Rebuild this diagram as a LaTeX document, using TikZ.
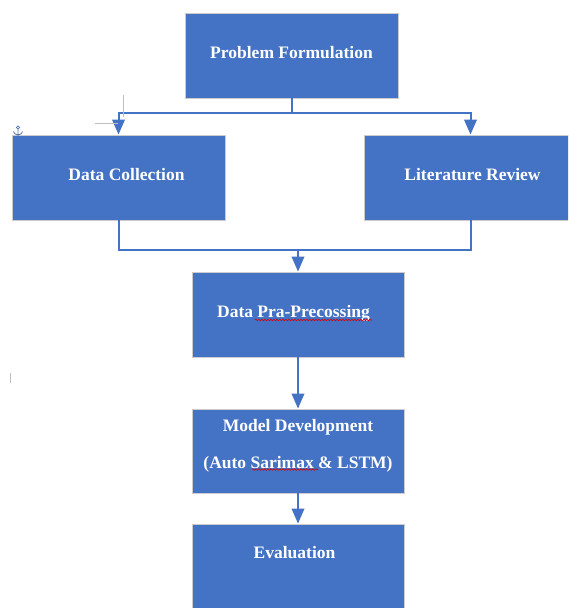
\documentclass[tikz,border=0pt]{standalone}
\usepackage{fontspec}
\setmainfont{Liberation Serif}
\usetikzlibrary{arrows.meta,positioning,calc,decorations.pathmorphing}
\definecolor{wordblue}{RGB}{68,114,196}
\tikzset{
stepbox/.style={rectangle,fill=wordblue,draw=black!20,line width=0.8pt,minimum width=213pt,minimum height=85pt,inner sep=0pt},
boxtext/.style={text=white,font=\bfseries\fontsize{17.5}{21}\selectfont,align=center,text depth=6pt},
link/.style={draw=wordblue,line width=2pt},
arr/.style={link,-{Triangle[width=12.5pt,length=15pt]}},
spellmark/.style={red!85!black,line width=0.6pt,decorate,decoration={snake,amplitude=0.8pt,segment length=3pt}},
editmark/.style={black!25,line width=1pt},
}

\begin{document}
\begin{tikzpicture}[x=1pt,y=-1pt]

        \clip (0,0) rectangle (568,608);

        % Boxes
        \node[stepbox,boxtext] (formulation) at (291.5,55.5) {Problem Formulation};
        \node[stepbox,boxtext] (collection) at (118.5,177.5) {\hspace*{16pt}Data Collection};
        \node[stepbox,boxtext] (review) at (470.5,177.5) {\hspace*{4pt}Literature Review};
        \node[stepbox,boxtext,minimum width=212pt] (preproc) at (298,314.5) {Data Pra-Precossing\hspace*{9pt}};
        \node[stepbox,boxtext,minimum width=212pt,minimum height=84pt,text depth=14pt] (model) at (298,451) {Model Development\\[16pt](Auto Sarimax \& LSTM)};
        \node[stepbox,minimum width=212pt,label={[boxtext,text depth=0pt,anchor=center,xshift=-3.5pt,yshift=-29pt]north:Evaluation}] (evaluation) at (298,566.5) {};

        % Split after problem formulation
        \coordinate (top bus) at ($(formulation.south)+(0,15)$);
        \draw[link] (formulation.south) -- (top bus);
        \draw[arr] (top bus) -| (collection.north);
        \draw[arr] (top bus) -| (review.north);

        % Join before pre-processing
        \coordinate (low bus) at ($(collection.south)+(0,30)$);
        \draw[link] (collection.south) -- (low bus) -| (review.south);
        \coordinate (join) at (low bus -| preproc.north);
        \draw[arr] (join) -- (preproc.north);

        % Chain
        \draw[arr] (preproc.south) -- (model.north);
        \draw[arr] (model.south) -- (evaluation.north);

        % Spell check underlines
        \draw[spellmark] (255,320) -- (372,320);
        \draw[spellmark] (252,469.5) -- (318,469.5);

        % Edit marks
        \draw[editmark] (123,95) -- (123,117);
        \draw[editmark] (95,123) -- (118,123);
        \draw[editmark] (10,373) -- (10,383);
        \draw[wordblue!70!gray,line width=0.8pt] (18,127.5) circle (1.6pt)
        (18,129) -- (18,136) (13.5,131.5) .. controls (14,136) and (22,136) .. (22.5,131.5);

    \end{tikzpicture}
\end{document}
